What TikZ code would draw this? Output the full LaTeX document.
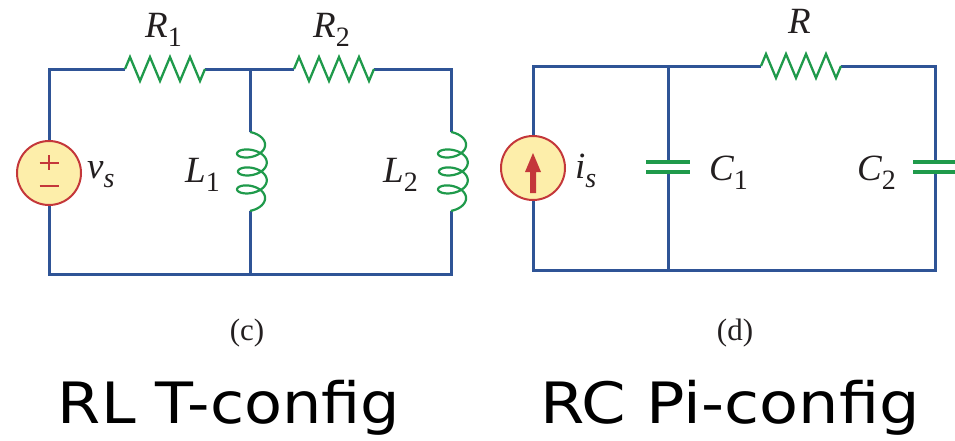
\documentclass[tikz,border=0pt]{standalone}
\usepackage{fontspec}
\setmainfont{Liberation Serif}
\newfontfamily\capfont{DejaVu Sans}
\usepackage{graphicx}
\definecolor{wireblue}{RGB}{47,84,150}
\definecolor{compgreen}{RGB}{31,154,75}
\definecolor{srcfill}{RGB}{253,238,170}
\definecolor{srcred}{RGB}{196,55,58}
\definecolor{labtxt}{RGB}{35,31,32}
\newcommand{\cktlab}[2]{{\fontsize{37}{37}\selectfont\itshape #1}\raisebox{-9pt}{\fontsize{28}{28}\selectfont #2}}
\newcommand{\subcaptext}[1]{{\fontsize{31}{31}\selectfont #1}}
\begin{document}
\begin{tikzpicture}[x=1pt,y=-1pt,
  wire/.style={draw=wireblue,line width=3pt,line cap=butt,line join=miter},
  comp/.style={draw=compgreen,line width=2.3pt,line join=miter},
  plate/.style={draw=compgreen,line width=3.5pt},
  srcst/.style={circle,draw=srcred,fill=srcfill,line width=2pt,minimum size=64pt,inner sep=0pt},
  lab/.style={anchor=base west,inner sep=0pt,text=labtxt},
  subcap/.style={inner sep=0pt,text=labtxt},
  bigcap/.style={inner sep=0pt,anchor=base,text=black}]
\useasboundingbox (0,0) rectangle (955,440);

% ---------- left circuit (RL T) ----------
\coordinate (TL) at (49,69);
\coordinate (BL) at (49,274);
\coordinate (J1) at (250,69);
\coordinate (J1b) at (250,274);
\coordinate (TR) at (451,69);
\coordinate (BR) at (451,274);
\coordinate (R1a) at (125,69);
\coordinate (R1b) at (205,69);
\coordinate (R2a) at (294,69);
\coordinate (R2b) at (374,69);
\coordinate (L1a) at (250,132);
\coordinate (L1b) at (250,211);
\coordinate (L2a) at (451,132);
\coordinate (L2b) at (451,211);
\node[srcst] (vs) at (49,173) {};

\draw[wire] (vs.north) -- (TL) -- (R1a);
\draw[wire] (R1b) -- (J1) -- (R2a);
\draw[wire] (R2b) -- (TR) -- (L2a);
\draw[wire] (L2b) -- (BR) -- (J1b) -- (BL) -- (vs.south);
\draw[wire] (J1) -- (L1a);
\draw[wire] (L1b) -- (J1b);

% resistors
\draw[comp] (R1a) -- ++(5,-12) -- ++(10,24) -- ++(10,-24) -- ++(10,24) -- ++(10,-24) -- ++(10,24) -- ++(10,-24) -- ++(10,24) -- (R1b);
\draw[comp] (R2a) -- ++(5,-12) -- ++(10,24) -- ++(10,-24) -- ++(10,24) -- ++(10,-24) -- ++(10,24) -- ++(10,-24) -- ++(10,24) -- (R2b);
% inductors
\draw[comp,line width=2.2pt] plot[domain=0:7*pi,samples=300,variable=\t] ({250+14.5*sin(\t r)+2.5*sin(\t/7 r)},{132+2.86*\t+8*(1-cos(\t r))});
\draw[comp,line width=2.2pt] plot[domain=0:7*pi,samples=300,variable=\t] ({451+14.5*sin(\t r)+2.5*sin(\t/7 r)},{132+2.86*\t+8*(1-cos(\t r))});
% source signs
\draw[srcred,line width=2pt] (39.5,162.5) -- (58.5,162.5) (49,155) -- (49,170);
\draw[srcred,line width=2pt] (39.5,186) -- (58.5,186);

% labels
\node[lab] (lR1) at (145,37) {\cktlab{R}{1}};
\node[lab] (lR2) at (313,37) {\cktlab{R}{2}};
\node[lab] (lvs) at (87,178) {\cktlab{v}{\itshape s}};
\node[lab] (lL1) at (185,182) {\cktlab{L}{1}};
\node[lab] (lL2) at (383,182) {\cktlab{L}{2}};
\node[subcap] (capc) at (247,333) {\subcaptext{(c)}};
\node[bigcap] (bigl) at (229,423) {\scalebox{1.09}[1]{\fontsize{57}{57}\capfont RL T-config}};

% ---------- right circuit (RC Pi) ----------
\coordinate (PTL) at (533,66);
\coordinate (PBL) at (533,270);
\coordinate (PJ) at (668,66);
\coordinate (PJb) at (668,270);
\coordinate (PTR) at (935,66);
\coordinate (PBR) at (935,270);
\coordinate (Ra) at (761,66);
\coordinate (Rb) at (841,66);
\coordinate (C1a) at (668,162);
\coordinate (C1b) at (668,172);
\coordinate (C2a) at (935,162);
\coordinate (C2b) at (935,172);
\node[srcst] (is) at (533,168) {};

\draw[wire] (is.north) -- (PTL) -- (PJ) -- (Ra);
\draw[wire] (Rb) -- (PTR) -- (C2a);
\draw[wire] (C2b) -- (PBR) -- (PJb) -- (PBL) -- (is.south);
\draw[wire] (PJ) -- (C1a);
\draw[wire] (C1b) -- (PJb);

\draw[comp] (Ra) -- ++(5,-12) -- ++(10,24) -- ++(10,-24) -- ++(10,24) -- ++(10,-24) -- ++(10,24) -- ++(10,-24) -- ++(10,24) -- (Rb);
\draw[plate] ([xshift=-22pt]C1a) -- ([xshift=22pt]C1a);
\draw[plate] ([xshift=-22pt]C1b) -- ([xshift=22pt]C1b);
\draw[plate] ([xshift=-22pt]C2a) -- ([xshift=22pt]C2a);
\draw[plate] ([xshift=-22pt]C2b) -- ([xshift=22pt]C2b);
% current arrow
\fill[srcred] (530,193) -- (536,193) -- (536,172) -- (541,172) -- (533,153) -- (525,172) -- (530,172) -- cycle;

\node[lab] (lR) at (788,33) {{\fontsize{37}{37}\selectfont\itshape R}};
\node[lab] (lis) at (575,178) {\cktlab{i}{\itshape s}};
\node[lab] (lC1) at (709,180) {\cktlab{C}{1}};
\node[lab] (lC2) at (857,180) {\cktlab{C}{2}};
\node[subcap] (capd) at (735,333) {\subcaptext{(d)}};
\node[bigcap] (bigr) at (730,423) {\scalebox{1.12}[1]{\fontsize{57}{57}\capfont RC Pi-config}};
\end{tikzpicture}
\end{document}
